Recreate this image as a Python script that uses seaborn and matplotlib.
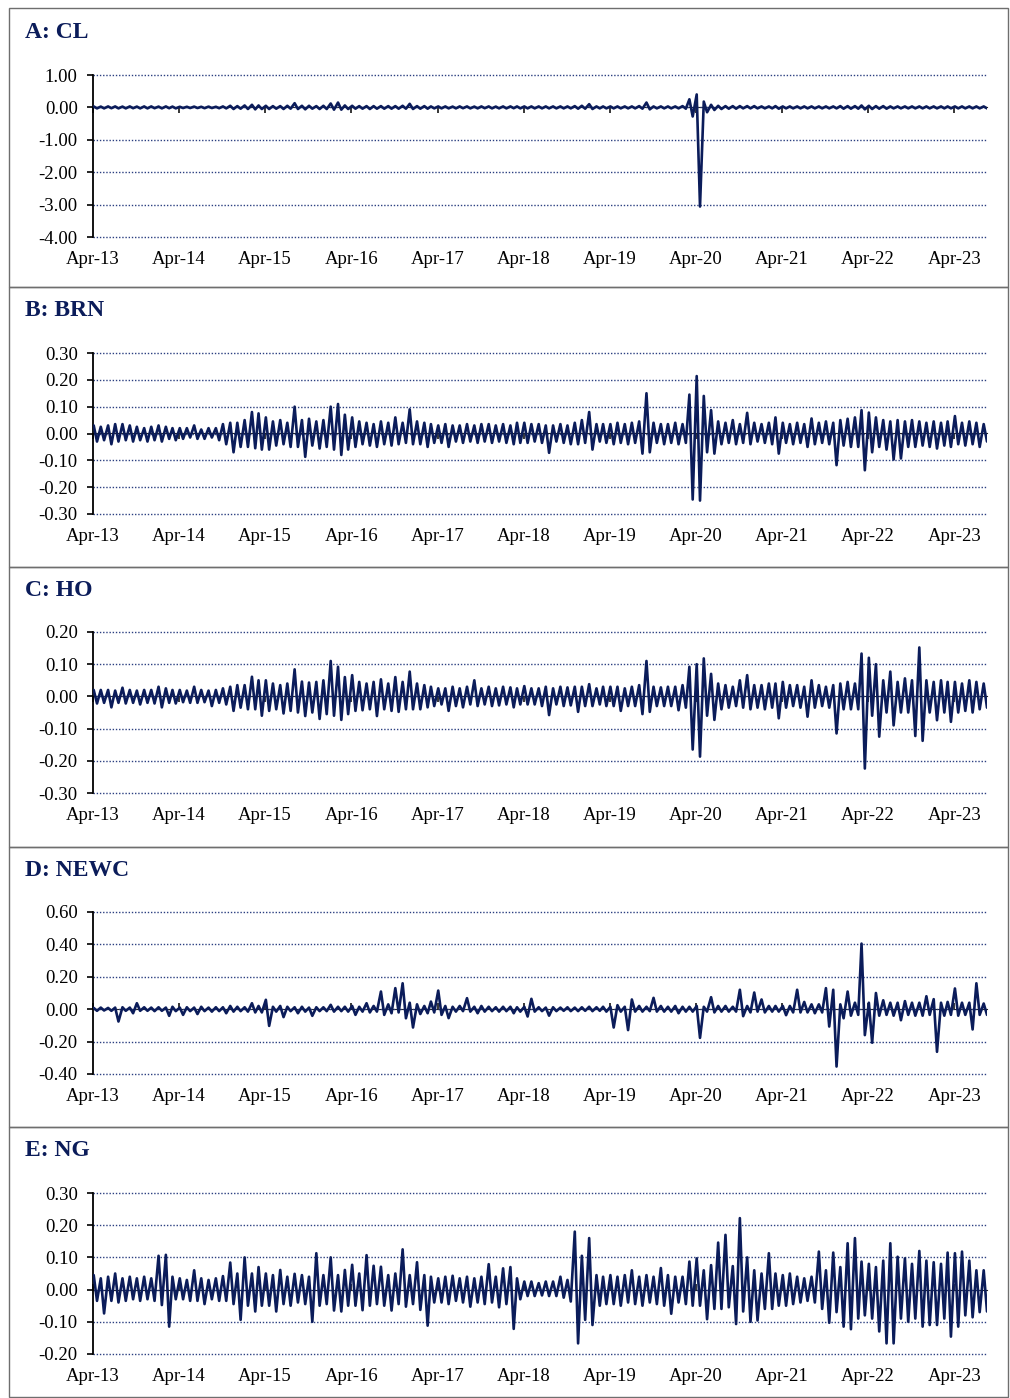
import pandas as pd
import matplotlib
matplotlib.use("Agg")
import matplotlib.pyplot as plt
import matplotlib.dates as mdates
from matplotlib.ticker import MultipleLocator, FormatStrFormatter
from matplotlib.patches import Rectangle
import seaborn as sns

# Monthly high / low of the daily returns, Apr-2013 .. Aug-2023 (125 months),
# read off the reference chart (one row = Apr..Mar of one year)
cl_hi = [0.03, 0.025, 0.03, 0.03, 0.025, 0.03, 0.025, 0.03, 0.03, 0.025, 0.03, 0.025,
         0.02, 0.02, 0.025, 0.02, 0.025, 0.02, 0.03, 0.05, 0.04, 0.06, 0.08, 0.06,
         0.05, 0.04, 0.04, 0.05, 0.13, 0.05, 0.05, 0.04, 0.05, 0.12, 0.15, 0.06,
         0.05, 0.04, 0.04, 0.04, 0.04, 0.04, 0.04, 0.05, 0.11, 0.04, 0.04, 0.03,
         0.03, 0.03, 0.025, 0.03, 0.03, 0.025, 0.03, 0.03, 0.025, 0.03, 0.03, 0.03,
         0.03, 0.03, 0.03, 0.03, 0.03, 0.03, 0.03, 0.04, 0.05, 0.10, 0.03, 0.03,
         0.03, 0.03, 0.03, 0.03, 0.04, 0.15, 0.03, 0.03, 0.03, 0.03, 0.04, 0.25,
         0.40, 0.18, 0.08, 0.05, 0.04, 0.04, 0.04, 0.04, 0.04, 0.03, 0.03, 0.04,
         0.03, 0.03, 0.03, 0.03, 0.03, 0.03, 0.03, 0.03, 0.04, 0.04, 0.04, 0.06,
         0.05, 0.04, 0.04, 0.03, 0.03, 0.03, 0.03, 0.03, 0.03, 0.03, 0.03, 0.03,
         0.03, 0.03, 0.03, 0.03, 0.03]
cl_lo = [-0.03, -0.03, -0.025, -0.03, -0.03, -0.025, -0.03, -0.03, -0.025, -0.03, -0.025, -0.03,
         -0.02, -0.02, -0.02, -0.025, -0.02, -0.025, -0.03, -0.05, -0.04, -0.05, -0.06, -0.05,
         -0.05, -0.04, -0.05, -0.04, -0.05, -0.06, -0.04, -0.05, -0.05, -0.07, -0.07, -0.05,
         -0.04, -0.04, -0.05, -0.04, -0.04, -0.04, -0.04, -0.04, -0.05, -0.04, -0.04, -0.03,
         -0.03, -0.03, -0.03, -0.025, -0.03, -0.03, -0.025, -0.03, -0.03, -0.03, -0.025, -0.03,
         -0.03, -0.03, -0.03, -0.03, -0.03, -0.03, -0.03, -0.04, -0.04, -0.05, -0.03, -0.03,
         -0.03, -0.03, -0.03, -0.03, -0.04, -0.06, -0.03, -0.03, -0.03, -0.03, -0.04, -0.28,
         -3.06, -0.15, -0.08, -0.05, -0.04, -0.04, -0.03, -0.03, -0.03, -0.03, -0.03, -0.04,
         -0.03, -0.03, -0.03, -0.03, -0.03, -0.03, -0.03, -0.03, -0.04, -0.04, -0.04, -0.06,
         -0.05, -0.04, -0.04, -0.03, -0.03, -0.03, -0.03, -0.03, -0.03, -0.03, -0.03, -0.03,
         -0.03, -0.03, -0.03, -0.03, -0.03]

brn_hi = [0.03, 0.025, 0.03, 0.035, 0.035, 0.03, 0.025, 0.02, 0.025, 0.03, 0.025, 0.02,
          0.02, 0.02, 0.03, 0.015, 0.02, 0.02, 0.035, 0.04, 0.04, 0.05, 0.08, 0.075,
          0.06, 0.045, 0.05, 0.04, 0.10, 0.05, 0.055, 0.045, 0.05, 0.10, 0.11, 0.07,
          0.06, 0.045, 0.04, 0.035, 0.045, 0.04, 0.06, 0.04, 0.09, 0.045, 0.04, 0.035,
          0.03, 0.035, 0.03, 0.03, 0.035, 0.03, 0.035, 0.035, 0.03, 0.035, 0.03, 0.04,
          0.04, 0.035, 0.035, 0.03, 0.03, 0.035, 0.03, 0.04, 0.05, 0.08, 0.035, 0.035,
          0.035, 0.04, 0.035, 0.04, 0.045, 0.15, 0.04, 0.035, 0.035, 0.04, 0.035, 0.145,
          0.214, 0.14, 0.087, 0.045, 0.04, 0.05, 0.035, 0.077, 0.04, 0.035, 0.04, 0.06,
          0.04, 0.035, 0.04, 0.035, 0.056, 0.04, 0.045, 0.04, 0.05, 0.055, 0.06, 0.087,
          0.078, 0.06, 0.05, 0.045, 0.05, 0.045, 0.05, 0.045, 0.04, 0.045, 0.04, 0.045,
          0.065, 0.04, 0.045, 0.04, 0.035]
brn_lo = [-0.03, -0.025, -0.04, -0.03, -0.025, -0.03, -0.025, -0.03, -0.025, -0.03, -0.02, -0.025,
          -0.02, -0.015, -0.02, -0.02, -0.015, -0.025, -0.04, -0.07, -0.05, -0.05, -0.055, -0.06,
          -0.06, -0.045, -0.04, -0.05, -0.05, -0.087, -0.045, -0.056, -0.05, -0.06, -0.08, -0.06,
          -0.05, -0.04, -0.045, -0.05, -0.04, -0.045, -0.04, -0.035, -0.04, -0.04, -0.05, -0.035,
          -0.035, -0.05, -0.03, -0.035, -0.03, -0.035, -0.03, -0.035, -0.03, -0.035, -0.04, -0.035,
          -0.035, -0.03, -0.035, -0.072, -0.03, -0.035, -0.04, -0.04, -0.035, -0.06, -0.03, -0.035,
          -0.04, -0.035, -0.04, -0.035, -0.075, -0.07, -0.035, -0.04, -0.035, -0.04, -0.035, -0.246,
          -0.25, -0.07, -0.075, -0.04, -0.035, -0.04, -0.035, -0.04, -0.03, -0.035, -0.04, -0.075,
          -0.035, -0.04, -0.035, -0.05, -0.04, -0.035, -0.04, -0.118, -0.045, -0.05, -0.05, -0.137,
          -0.07, -0.05, -0.06, -0.097, -0.093, -0.05, -0.05, -0.045, -0.05, -0.056, -0.045, -0.05,
          -0.04, -0.045, -0.04, -0.05, -0.03]

ho_hi = [0.02, 0.02, 0.02, 0.018, 0.027, 0.02, 0.018, 0.02, 0.02, 0.03, 0.025, 0.02,
         0.02, 0.018, 0.03, 0.02, 0.018, 0.02, 0.025, 0.03, 0.035, 0.035, 0.061, 0.05,
         0.05, 0.04, 0.035, 0.04, 0.084, 0.046, 0.043, 0.045, 0.05, 0.11, 0.092, 0.06,
         0.066, 0.045, 0.04, 0.045, 0.053, 0.04, 0.06, 0.045, 0.077, 0.04, 0.035, 0.03,
         0.025, 0.025, 0.03, 0.025, 0.03, 0.05, 0.025, 0.03, 0.025, 0.03, 0.028, 0.025,
         0.032, 0.025, 0.025, 0.03, 0.025, 0.03, 0.028, 0.03, 0.03, 0.038, 0.025, 0.03,
         0.03, 0.03, 0.025, 0.03, 0.035, 0.11, 0.03, 0.028, 0.03, 0.03, 0.035, 0.092,
         0.10, 0.118, 0.07, 0.04, 0.035, 0.03, 0.05, 0.066, 0.035, 0.035, 0.04, 0.04,
         0.045, 0.035, 0.035, 0.03, 0.05, 0.035, 0.03, 0.035, 0.04, 0.045, 0.04, 0.133,
         0.12, 0.10, 0.05, 0.077, 0.045, 0.056, 0.05, 0.152, 0.05, 0.045, 0.05, 0.045,
         0.045, 0.04, 0.05, 0.045, 0.04]
ho_lo = [-0.022, -0.02, -0.034, -0.02, -0.022, -0.02, -0.025, -0.02, -0.022, -0.034, -0.02, -0.022,
         -0.018, -0.02, -0.02, -0.018, -0.03, -0.02, -0.025, -0.045, -0.035, -0.04, -0.04, -0.06,
         -0.045, -0.04, -0.053, -0.045, -0.05, -0.061, -0.05, -0.07, -0.055, -0.06, -0.073, -0.055,
         -0.045, -0.043, -0.04, -0.061, -0.04, -0.045, -0.048, -0.04, -0.04, -0.04, -0.034, -0.03,
         -0.025, -0.045, -0.03, -0.034, -0.025, -0.03, -0.025, -0.03, -0.028, -0.025, -0.034, -0.025,
         -0.025, -0.025, -0.03, -0.058, -0.025, -0.03, -0.028, -0.048, -0.03, -0.03, -0.025, -0.03,
         -0.03, -0.045, -0.03, -0.03, -0.055, -0.048, -0.03, -0.03, -0.03, -0.043, -0.035, -0.165,
         -0.187, -0.06, -0.073, -0.04, -0.035, -0.03, -0.035, -0.04, -0.035, -0.04, -0.035, -0.068,
         -0.035, -0.03, -0.035, -0.063, -0.035, -0.03, -0.035, -0.115, -0.04, -0.04, -0.04, -0.224,
         -0.06, -0.125, -0.05, -0.09, -0.05, -0.05, -0.123, -0.138, -0.05, -0.074, -0.05, -0.079,
         -0.05, -0.045, -0.05, -0.04, -0.035]

newc_hi = [0.008, 0.01, 0.008, 0.01, 0.012, 0.01, 0.037, 0.012, 0.01, 0.012, 0.01, 0.015,
           0.01, 0.012, 0.01, 0.015, 0.01, 0.012, 0.012, 0.02, 0.015, 0.012, 0.037, 0.02,
           0.058, 0.015, 0.02, 0.015, 0.012, 0.015, 0.01, 0.012, 0.012, 0.027, 0.015, 0.015,
           0.02, 0.015, 0.037, 0.02, 0.109, 0.03, 0.13, 0.16, 0.04, 0.03, 0.02, 0.047,
           0.115, 0.02, 0.015, 0.02, 0.068, 0.015, 0.02, 0.015, 0.012, 0.015, 0.015, 0.012,
           0.015, 0.064, 0.012, 0.01, 0.012, 0.01, 0.012, 0.01, 0.012, 0.015, 0.012, 0.015,
           0.015, 0.025, 0.015, 0.06, 0.02, 0.015, 0.07, 0.02, 0.015, 0.02, 0.015, 0.015,
           0.02, 0.015, 0.074, 0.02, 0.02, 0.015, 0.12, 0.02, 0.103, 0.06, 0.02, 0.02,
           0.02, 0.02, 0.12, 0.045, 0.03, 0.03, 0.13, 0.12, 0.03, 0.109, 0.04, 0.405,
           0.04, 0.10, 0.055, 0.04, 0.04, 0.05, 0.04, 0.04, 0.08, 0.062, 0.04, 0.045,
           0.128, 0.04, 0.04, 0.16, 0.035]
newc_lo = [-0.01, -0.008, -0.01, -0.076, -0.01, -0.025, -0.01, -0.01, -0.012, -0.01, -0.041, -0.012,
           -0.035, -0.012, -0.03, -0.012, -0.015, -0.012, -0.025, -0.015, -0.012, -0.015, -0.02, -0.02,
           -0.103, -0.015, -0.049, -0.012, -0.025, -0.015, -0.041, -0.012, -0.012, -0.015, -0.012, -0.015,
           -0.035, -0.015, -0.02, -0.015, -0.035, -0.025, -0.02, -0.056, -0.113, -0.03, -0.025, -0.02,
           -0.035, -0.055, -0.015, -0.012, -0.015, -0.025, -0.015, -0.012, -0.015, -0.012, -0.025, -0.015,
           -0.045, -0.015, -0.012, -0.04, -0.012, -0.01, -0.012, -0.012, -0.01, -0.012, -0.01, -0.015,
           -0.113, -0.015, -0.129, -0.015, -0.015, -0.012, -0.015, -0.015, -0.015, -0.025, -0.015, -0.015,
           -0.177, -0.015, -0.02, -0.015, -0.015, -0.015, -0.043, -0.02, -0.015, -0.02, -0.015, -0.015,
           -0.037, -0.02, -0.02, -0.02, -0.025, -0.02, -0.107, -0.354, -0.056, -0.04, -0.035, -0.16,
           -0.207, -0.04, -0.035, -0.04, -0.068, -0.035, -0.04, -0.04, -0.035, -0.263, -0.04, -0.035,
           -0.04, -0.035, -0.125, -0.035, -0.035]

ng_hi = [0.045, 0.035, 0.04, 0.05, 0.035, 0.04, 0.035, 0.04, 0.035, 0.105, 0.108, 0.04,
         0.035, 0.03, 0.06, 0.035, 0.03, 0.035, 0.042, 0.084, 0.05, 0.10, 0.05, 0.07,
         0.05, 0.045, 0.061, 0.04, 0.049, 0.045, 0.04, 0.113, 0.045, 0.10, 0.045, 0.061,
         0.077, 0.05, 0.107, 0.074, 0.071, 0.045, 0.05, 0.125, 0.045, 0.085, 0.045, 0.04,
         0.035, 0.04, 0.043, 0.035, 0.04, 0.035, 0.04, 0.079, 0.04, 0.066, 0.07, 0.035,
         0.025, 0.025, 0.02, 0.025, 0.025, 0.04, 0.03, 0.18, 0.105, 0.16, 0.045, 0.04,
         0.045, 0.04, 0.045, 0.06, 0.04, 0.045, 0.04, 0.067, 0.045, 0.04, 0.04, 0.087,
         0.097, 0.06, 0.076, 0.146, 0.17, 0.073, 0.222, 0.10, 0.06, 0.05, 0.113, 0.05,
         0.045, 0.05, 0.04, 0.035, 0.04, 0.118, 0.06, 0.115, 0.07, 0.144, 0.16, 0.087,
         0.08, 0.07, 0.09, 0.144, 0.102, 0.097, 0.08, 0.12, 0.09, 0.085, 0.08, 0.115,
         0.113, 0.118, 0.09, 0.06, 0.06]
ng_lo = [-0.035, -0.074, -0.035, -0.04, -0.035, -0.03, -0.035, -0.03, -0.035, -0.048, -0.115, -0.03,
         -0.03, -0.035, -0.035, -0.045, -0.03, -0.035, -0.035, -0.045, -0.094, -0.05, -0.068, -0.05,
         -0.05, -0.068, -0.045, -0.05, -0.04, -0.045, -0.1, -0.05, -0.045, -0.065, -0.068, -0.05,
         -0.05, -0.064, -0.05, -0.045, -0.05, -0.065, -0.045, -0.053, -0.045, -0.063, -0.112, -0.04,
         -0.04, -0.045, -0.035, -0.04, -0.053, -0.04, -0.045, -0.04, -0.055, -0.045, -0.122, -0.03,
         -0.02, -0.02, -0.018, -0.02, -0.02, -0.025, -0.037, -0.167, -0.094, -0.11, -0.05, -0.045,
         -0.045, -0.05, -0.04, -0.045, -0.05, -0.04, -0.045, -0.05, -0.075, -0.04, -0.045, -0.05,
         -0.05, -0.092, -0.06, -0.06, -0.055, -0.107, -0.068, -0.1, -0.096, -0.06, -0.06, -0.05,
         -0.05, -0.045, -0.04, -0.035, -0.04, -0.06, -0.103, -0.07, -0.115, -0.123, -0.09, -0.08,
         -0.09, -0.13, -0.167, -0.167, -0.09, -0.1, -0.09, -0.115, -0.11, -0.11, -0.09, -0.146,
         -0.115, -0.08, -0.086, -0.07, -0.068]

titles = ["A: CL", "B: BRN", "C: HO", "D: NEWC", "E: NG"]
highs = [cl_hi, brn_hi, ho_hi, newc_hi, ng_hi]
lows = [cl_lo, brn_lo, ho_lo, newc_lo, ng_lo]
y_limits = [(-4.0, 1.0), (-0.3, 0.3), (-0.3, 0.2), (-0.4, 0.6), (-0.2, 0.3)]
y_steps = [1.0, 0.1, 0.1, 0.2, 0.1]

NAVY = "#0b1c5a"
GRID = "#2b3f80"

sns.set_theme(style="white")
plt.rcParams["font.family"] = ["Liberation Serif", "DejaVu Serif"]
plt.rcParams["axes.unicode_minus"] = False

W, H = 1010, 1398
fig = plt.figure(figsize=(W / 100, H / 100), dpi=100)
fig.patch.set_facecolor("white")

# layout in pixels (top-origin)
ax_tops = [75, 353, 632, 912, 1193]
ax_bottoms = [237, 514, 793, 1074, 1354]
title_ys = [32, 310, 590, 870, 1150]
box_edges = [8, 287, 567, 847, 1127, 1397]
ax_left, ax_right = 93, 987

start = pd.Timestamp("2013-04-01")
end = pd.Timestamp("2023-08-18")
year_ticks = pd.date_range("2013-04-01", "2023-04-01", freq="12MS")

for i, title in enumerate(titles):
    # two points per month: monthly high then monthly low
    dates, vals = [], []
    for m, (h, l) in enumerate(zip(highs[i], lows[i])):
        d = start + pd.DateOffset(months=m)
        dates += [d + pd.Timedelta(days=3), d + pd.Timedelta(days=17)]
        vals += [h, l]
    df = pd.DataFrame({"date": dates, "ret": vals})

    top, bot = ax_tops[i], ax_bottoms[i]
    ax = fig.add_axes([ax_left / W, 1 - bot / H, (ax_right - ax_left) / W, (bot - top) / H])
    ax.set_facecolor("white")
    sns.lineplot(data=df, x="date", y="ret", ax=ax, color=NAVY, linewidth=1.9,
                 estimator=None, sort=False, zorder=3)

    ylo, yhi = y_limits[i]
    ax.set_xlim(start, end)
    ax.set_ylim(ylo, yhi)
    ax.yaxis.set_major_locator(MultipleLocator(y_steps[i]))
    ax.yaxis.set_major_formatter(FormatStrFormatter("%.2f"))
    ax.set_xticks(year_ticks)
    ax.xaxis.set_major_formatter(mdates.DateFormatter("%b-%y"))
    ax.set_xlabel("")
    ax.set_ylabel("")

    ax.grid(axis="y", linestyle=(0, (1, 1.3)), color=GRID, linewidth=1.0)
    ax.grid(axis="x", visible=False)
    for side in ["top", "right", "bottom"]:
        ax.spines[side].set_visible(False)
    ax.spines["left"].set_color("black")
    ax.spines["left"].set_linewidth(1.3)
    for gl in ax.get_ygridlines():
        gl.set_clip_on(False)

    ax.tick_params(axis="x", length=0, pad=10, labelsize=13.5, colors="black")
    ax.tick_params(axis="y", left=True, length=4, width=1.2, direction="out",
                   pad=7, labelsize=13.5, colors="black")

    # category axis crossing at zero with small downward year ticks
    sec = ax.secondary_xaxis((0 - ylo) / (yhi - ylo))
    sec.set_xticks(mdates.date2num(year_ticks))
    sec.tick_params(axis="x", length=4, width=1.1, direction="in",
                    labelbottom=False, labeltop=False, colors="black")
    for sp in sec.spines.values():
        sp.set_linewidth(0.8)
        sp.set_color("#222222")

    fig.text(25 / W, 1 - title_ys[i] / H, title, fontsize=17, fontweight="bold",
             color=NAVY, ha="left", va="center")

    y0, y1 = box_edges[i], box_edges[i + 1]
    fig.add_artist(Rectangle((8.5 / W, 1 - y1 / H), (1008 - 8.5) / W, (y1 - y0) / H,
                             transform=fig.transFigure, fill=False,
                             edgecolor="#6e6e6e", linewidth=1.0))

fig.savefig("out.png", dpi=100, facecolor="white")
